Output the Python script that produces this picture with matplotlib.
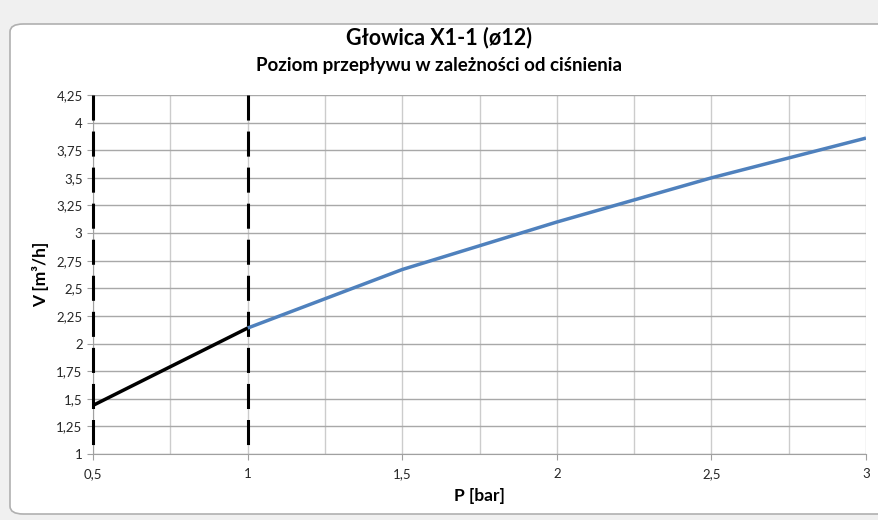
import matplotlib
matplotlib.use("Agg")
import matplotlib.pyplot as plt
from matplotlib.patches import FancyBboxPatch
from matplotlib.ticker import MultipleLocator, FuncFormatter

# Data
p_low = [0.5, 1.0]
v_low = [1.44, 2.14]
p_high = [1.0, 1.5, 2.0, 2.5, 3.0]
v_high = [2.14, 2.67, 3.10, 3.50, 3.86]
limit_lines = [0.5, 1.0]

title = "Głowica X1-1 (ø12)"
subtitle = "Poziom przepływu w zależności od ciśnienia"
xlabel = "P [bar]"
ylabel = "V [m³/h]"

plt.rcParams['font.family'] = ['Lato', 'DejaVu Sans']

fig = plt.figure(figsize=(8.79, 5.20), dpi=100)
fig.patch.set_facecolor('#f0f0f0')

frame = FancyBboxPatch((10/879, 6/520), 900/879, 490/520,
                       boxstyle="round,pad=0,rounding_size=0.015",
                       transform=fig.transFigure, facecolor='white',
                       edgecolor='#b0b0b0', linewidth=1.2, zorder=-10)
fig.patches.append(frame)

ax = fig.add_axes([93/879, (520-454)/520, (866-93)/879, (454-95)/520])
ax.set_zorder(1)
ax.set_facecolor('white')

ax.set_xlim(0.5, 3)
ax.set_ylim(1, 4.25)
ax.xaxis.set_major_locator(MultipleLocator(0.5))
ax.xaxis.set_minor_locator(MultipleLocator(0.25))
ax.yaxis.set_major_locator(MultipleLocator(0.25))

fmt = FuncFormatter(lambda v, pos: ('%g' % v).replace('.', ','))
ax.xaxis.set_major_formatter(fmt)
ax.yaxis.set_major_formatter(fmt)

ax.set_axisbelow(True)
ax.grid(axis='y', which='major', color='#a8a8a8', linewidth=1.0, zorder=1)
ax.grid(axis='x', which='both', color='#cccccc', linewidth=1.0, zorder=1)

for s in ['top', 'right']:
    ax.spines[s].set_visible(False)
ax.spines['left'].set_color('#a0a0a0')
ax.spines['bottom'].set_color('#a0a0a0')

ax.tick_params(axis='both', which='major', labelsize=9.5, colors='#a0a0a0',
               labelcolor='#262626', length=4, direction='out')
ax.tick_params(axis='x', which='minor', length=0)
ax.tick_params(axis='x', pad=6)

trans = ax.get_xaxis_transform()
for xl in limit_lines:
    ax.plot([xl, xl], [1, 0], transform=trans, color='black', linewidth=2.2,
            linestyle=(0, (8.2, 3.6)), zorder=3, clip_on=False)

ax.plot(p_high, v_high, color='#4f81bd', linewidth=2.5, zorder=4, solid_capstyle='butt')
ax.plot(p_low, v_low, color='black', linewidth=2.5, zorder=5, solid_capstyle='butt')

ax.set_xlabel(xlabel, fontsize=12.5, fontweight='bold', labelpad=6)
ax.set_ylabel(ylabel, fontsize=12.5, fontweight='bold', labelpad=5)

fig.text(0.5, 1 - 38/520, title, ha='center', va='center', fontsize=15.5, fontweight='bold')
fig.text(0.5, 1 - 66/520, subtitle, ha='center', va='center', fontsize=13.5, fontweight='bold')

fig.savefig('out.png', dpi=100, facecolor=fig.get_facecolor())
